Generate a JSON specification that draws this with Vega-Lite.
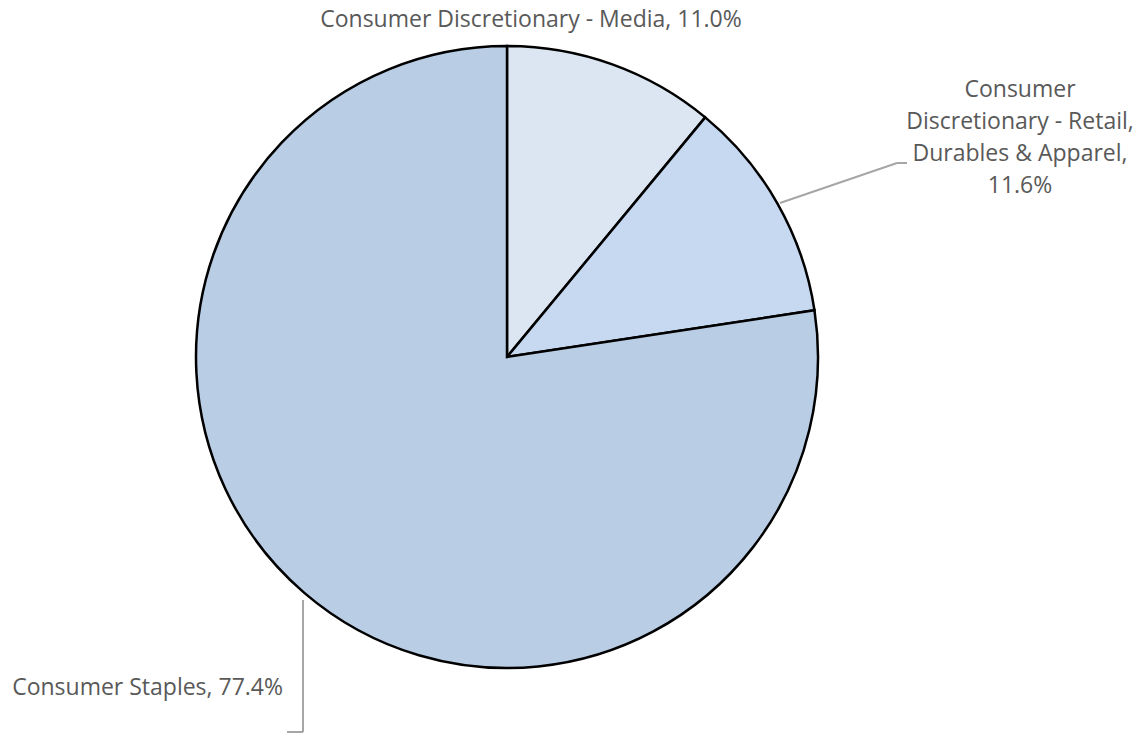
{
  "$schema": "https://vega.github.io/schema/vega-lite/v6.json",
  "width": 1014,
  "height": 714,
  "autosize": {"type": "none"},
  "padding": {"left": 0, "top": 0, "right": 131, "bottom": 21},
  "background": "white",
  "config": {"view": {"stroke": null}},
  "datasets": {
    "slices": [
      {"sector": "Consumer Discretionary - Media", "share": 11.0, "o": 1},
      {"sector": "Consumer Discretionary - Retail, Durables & Apparel", "share": 11.6, "o": 2},
      {"sector": "Consumer Staples", "share": 77.4, "o": 3}
    ],
    "labelsCenter": [
      {"label": "Consumer Discretionary - Media, 11.0%", "lx": 24, "ly": 337},
      {"label": "Consumer|Discretionary - Retail,|Durables & Apparel,|11.6%", "lx": 513, "ly": 267}
    ],
    "labelsRight": [
      {"label": "Consumer Staples, 77.4%", "lx": -224, "ly": -331}
    ],
    "leaders": [
      {"x1": 273, "y1": 154, "x2": 390, "y2": 194},
      {"x1": 390, "y1": 194, "x2": 400, "y2": 194},
      {"x1": -204, "y1": -243, "x2": -204, "y2": -375},
      {"x1": -204, "y1": -375, "x2": -220, "y2": -375}
    ]
  },
  "layer": [
    {
      "data": {"name": "slices"},
      "mark": {"type": "arc", "radius": 311, "stroke": "black", "strokeWidth": 2.5},
      "encoding": {
        "theta": {"field": "share", "type": "quantitative", "stack": true},
        "order": {"field": "o", "type": "quantitative"},
        "color": {
          "field": "sector",
          "type": "nominal",
          "scale": {
            "domain": ["Consumer Discretionary - Media", "Consumer Discretionary - Retail, Durables & Apparel", "Consumer Staples"],
            "range": ["#DCE6F2", "#C6D9F1", "#B9CDE5"]
          },
          "legend": null
        }
      }
    },
    {
      "data": {"name": "leaders"},
      "mark": {"type": "rule", "color": "#A6A6A6", "strokeWidth": 2},
      "encoding": {
        "x": {"field": "x1", "type": "quantitative", "scale": {"domain": [-507, 507]}, "axis": null},
        "y": {"field": "y1", "type": "quantitative", "scale": {"domain": [-357, 357]}, "axis": null},
        "x2": {"field": "x2"},
        "y2": {"field": "y2"}
      }
    },
    {
      "data": {"name": "labelsCenter"},
      "mark": {"type": "text", "align": "center", "baseline": "middle", "font": "Open Sans", "fontSize": 23, "color": "#595959", "lineBreak": "|", "lineHeight": 32},
      "encoding": {
        "x": {"field": "lx", "type": "quantitative", "scale": {"domain": [-507, 507]}, "axis": null},
        "y": {"field": "ly", "type": "quantitative", "scale": {"domain": [-357, 357]}, "axis": null},
        "text": {"field": "label", "type": "nominal"}
      }
    },
    {
      "data": {"name": "labelsRight"},
      "mark": {"type": "text", "align": "right", "baseline": "middle", "font": "Open Sans", "fontSize": 23, "color": "#595959"},
      "encoding": {
        "x": {"field": "lx", "type": "quantitative", "scale": {"domain": [-507, 507]}, "axis": null},
        "y": {"field": "ly", "type": "quantitative", "scale": {"domain": [-357, 357]}, "axis": null},
        "text": {"field": "label", "type": "nominal"}
      }
    }
  ]
}
